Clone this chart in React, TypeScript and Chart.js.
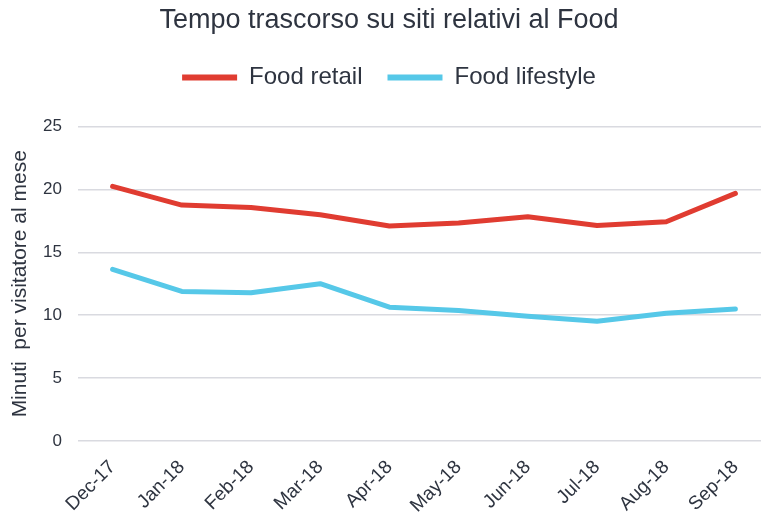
import React, { useEffect, useRef } from "react";
import { Chart, registerables } from "chart.js";

Chart.register(...registerables);

const categories = ["Dec-17", "Jan-18", "Feb-18", "Mar-18", "Apr-18", "May-18", "Jun-18", "Jul-18", "Aug-18", "Sep-18"];
const foodRetail = [20.24, 18.75, 18.56, 17.98, 17.08, 17.32, 17.82, 17.13, 17.42, 19.68];
const foodLifestyle = [13.65, 11.89, 11.78, 12.5, 10.64, 10.37, 9.92, 9.52, 10.16, 10.5];
const yTicks = [0, 5, 10, 15, 20, 25];

const FONT = "'Liberation Sans', Arial, sans-serif";
const TEXT = "#2e3440";

export default function App() {
  const ref = useRef<HTMLCanvasElement | null>(null);
  useEffect(() => {
    document.body.style.margin = "0";
    const ctx = ref.current!.getContext("2d")!;
    const chart = new Chart(ctx, {
      type: "line",
      data: {
        labels: categories,
        datasets: [
          {
            label: "Food retail",
            data: foodRetail,
            borderColor: "#e03c31",
            backgroundColor: "#e03c31",
            borderWidth: 5,
            pointRadius: 0,
            tension: 0,
            borderCapStyle: "round",
            borderJoinStyle: "round",
          },
          {
            label: "Food lifestyle",
            data: foodLifestyle,
            borderColor: "#56c8e8",
            backgroundColor: "#56c8e8",
            borderWidth: 5,
            pointRadius: 0,
            tension: 0,
            borderCapStyle: "round",
            borderJoinStyle: "round",
          },
        ],
      },
      plugins: [
        {
          id: "legendMargin",
          beforeInit(c: any) {
            const orig = c.legend.fit;
            c.legend.fit = function () {
              orig.bind(c.legend)();
              this.height += 27;
            };
          },
        },
      ],
      options: {
        animation: false,
        responsive: false,
        maintainAspectRatio: false,
        layout: { padding: { left: 8, right: 0, top: 0, bottom: 0 } },
        plugins: {
          title: {
            display: true,
            text: "Tempo trascorso su siti relativi al Food",
            color: TEXT,
            font: { family: FONT, size: 27, weight: "normal" },
            padding: { top: 4, bottom: 4 },
          },
          legend: {
            position: "top",
            labels: {
              color: TEXT,
              font: { family: FONT, size: 24 },
              boxWidth: 55,
              boxHeight: 6,
              padding: 25,
              generateLabels: (c: any) =>
                c.data.datasets.map((ds: any, i: number) => ({
                  text: ds.label,
                  fillStyle: ds.borderColor,
                  strokeStyle: ds.borderColor,
                  lineWidth: 0,
                  datasetIndex: i,
                  fontColor: TEXT,
                })),
            },
          },
          tooltip: { enabled: false },
        },
        scales: {
          x: {
            offset: true,
            grid: { display: false, drawTicks: false },
            border: { display: false },
            ticks: {
              color: TEXT,
              font: { family: FONT, size: 19 },
              maxRotation: 45,
              minRotation: 45,
              padding: 15,
            },
          },
          y: {
            min: 0,
            max: 25,
            afterBuildTicks: (axis: any) => {
              axis.ticks = yTicks.map((v) => ({ value: v }));
            },
            afterFit: (axis: any) => {
              axis.width = 70;
            },
            grid: { color: "#d9dae0", lineWidth: 1.5, drawTicks: false },
            border: { display: false },
            ticks: {
              color: TEXT,
              font: { family: FONT, size: 17 },
              padding: 16,
            },
            title: {
              display: true,
              text: "Minuti  per visitatore al mese",
              color: TEXT,
              font: { family: FONT, size: 21 },
              padding: { top: 0, bottom: 0 },
            },
          },
        },
      },
    });
    return () => chart.destroy();
  }, []);
  return (
    <div style={{ width: 761, height: 513, overflow: "hidden", position: "relative" }}>
      <canvas ref={ref} width={770} height={532} style={{ display: "block", width: 770, height: 532 }} />
    </div>
  );
}
